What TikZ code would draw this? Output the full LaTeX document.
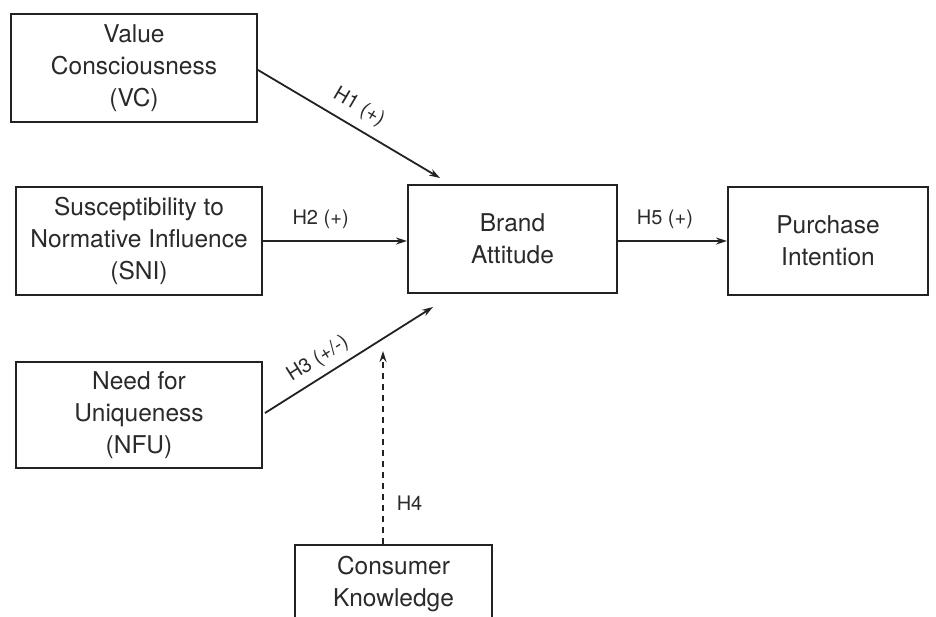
\documentclass[tikz,border=0pt]{standalone}
\usepackage{fontspec}
\setmainfont{TeX Gyre Heros}
\usetikzlibrary{arrows.meta,calc}
\definecolor{ink}{HTML}{222222}
\definecolor{txt}{HTML}{2A2A2A}
\begin{document}
\begin{tikzpicture}[x=1pt,y=-1pt,
  box/.style={draw=ink,line width=2pt,fill=white,align=center,text=txt,
    font=\fontsize{24.5}{32}\selectfont,inner sep=0pt},
  conn/.style={draw=ink,line width=1.8pt,-{Stealth[length=11pt,width=7pt]}},
  lab/.style={text=txt,font=\fontsize{20}{24}\selectfont,inner sep=1pt}]
\useasboundingbox (0,0) rectangle (936,616);
\clip (0,0) rectangle (936,616);
\node[box,minimum width=246,minimum height=108] (vc) at (134,68) {Value\\Consciousness\\(VC)};
\node[box,minimum width=246,minimum height=108] (sni) at (139,241) {Susceptibility to\\Normative Influence\\(SNI)};
\node[box,minimum width=246,minimum height=106] (nfu) at (139,415) {Need for\\Uniqueness\\(NFU)};
\node[box,minimum width=209,minimum height=108] (ba) at (512.5,239) {Brand\\Attitude};
\node[box,minimum width=200,minimum height=108] (pi) at (828,241) {Purchase\\Intention};
\node[box,minimum width=197,minimum height=78] (ck) at (393.5,584) {Consumer\\Knowledge};
\coordinate (h1end) at (440,178);
\coordinate (h3start) at (265,413);
\coordinate (h3end) at (433,307);
\coordinate (h4start) at (383,545);
\coordinate (h4end) at (383,351);
\draw[conn] ([yshift=-2pt]vc.east) -- node[lab,pos=0.5,sloped,above=8pt] {H1 (+)} (h1end);
\draw[conn] (sni.east) -- node[lab,pos=0.4,above=10pt] {H2 (+)} (sni.east -| ba.west);
\draw[conn] (h3start) -- node[lab,pos=0.37,sloped,above=6pt] {H3 (+/-)} (h3end);
\draw[conn,dashed,dash pattern=on 6pt off 5pt,line width=1.5pt] (ck.north -| h4start) -- node[lab,pos=0.21,right=12pt] {H4} (h4end);
\draw[conn] (ba.east |- pi.west) -- node[lab,pos=0.43,above=10pt] {H5 (+)} (pi.west);
\end{tikzpicture}
\end{document}
